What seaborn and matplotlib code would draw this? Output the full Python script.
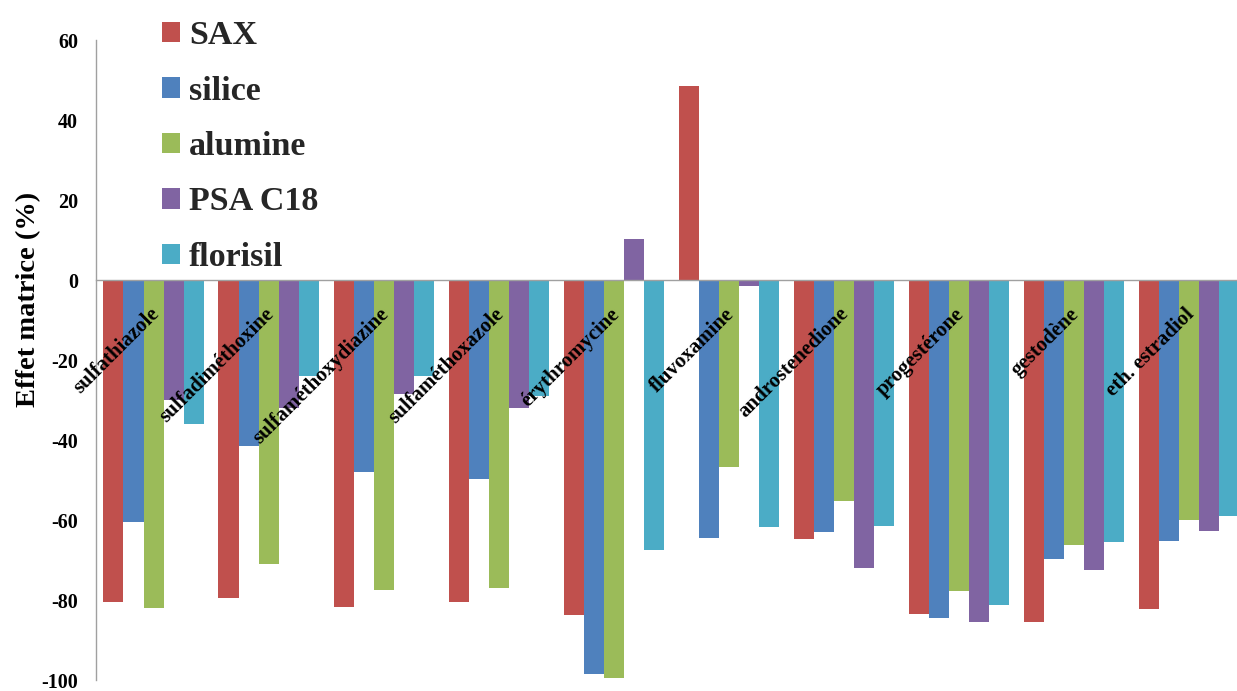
import matplotlib
matplotlib.use('Agg')
import pandas as pd
import matplotlib.pyplot as plt
import seaborn as sns

compounds = ['sulfathiazole', 'sulfadiméthoxine', 'sulfaméthoxydiazine', 'sulfaméthoxazole',
             'érythromycine', 'fluvoxamine', 'androstenedione', 'progestérone',
             'gestodène', 'eth. estradiol']
phases = ['SAX', 'silice', 'alumine', 'PSA C18', 'florisil']

sax = [-80.5, -79.6, -81.7, -80.4, -83.8, 48.5, -64.8, -83.6, -85.6, -82.3]
silice = [-60.4, -41.6, -48.0, -49.8, -98.6, -64.6, -63.0, -84.6, -69.8, -65.2]
alumine = [-82.0, -71.0, -77.6, -77.0, -99.6, -46.7, -55.3, -77.7, -66.3, -60.1]
psa_c18 = [-30.0, -32.0, -28.6, -32.0, 10.2, -1.5, -71.9, -85.4, -72.6, -62.8]
florisil = [-36.0, -24.0, -24.0, -29.0, -67.5, -61.7, -61.4, -81.3, -65.4, -59.1]

colors = ['#C0504D', '#4F81BD', '#9BBB59', '#8064A2', '#4BACC6']

series = {'SAX': sax, 'silice': silice, 'alumine': alumine, 'PSA C18': psa_c18, 'florisil': florisil}
rows = []
for phase, values in series.items():
    for comp, val in zip(compounds, values):
        rows.append({'compound': comp, 'phase': phase, 'effet': val})
df = pd.DataFrame(rows)

sns.set_theme(style='white')
plt.rcParams['font.family'] = ['Liberation Serif', 'DejaVu Serif']
plt.rcParams['font.weight'] = 'bold'
plt.rcParams['axes.unicode_minus'] = False

W, H = 1237, 691
fig = plt.figure(figsize=(W / 100, H / 100), dpi=100)
ax = fig.add_axes([96 / W, 11 / H, 1 - 96 / W, 640 / H])

sns.barplot(data=df, x='compound', y='effet', hue='phase', order=compounds, hue_order=phases,
            palette=colors, width=0.87, saturation=1, linewidth=0, errorbar=None, ax=ax)

# l'axe des x est coupé à droite dans l'original
ax.set_xlim(-0.5, 9.42)
ax.set_ylim(-100, 60)
ax.set_yticks(range(-100, 61, 20))

for side in ['top', 'right']:
    ax.spines[side].set_visible(False)
ax.spines['bottom'].set_position(('data', 0))
ax.spines['bottom'].set_color('#A0A0A0')
ax.spines['left'].set_color('#A0A0A0')
ax.spines['bottom'].set_linewidth(1)
ax.spines['left'].set_linewidth(1)

ax.tick_params(axis='x', length=0, labelbottom=False)
ax.tick_params(axis='y', length=0, pad=13, labelsize=14.5, labelcolor='black')
for lab in ax.get_yticklabels():
    lab.set_fontweight('bold')
ax.set_xlabel('')

for i, name in enumerate(compounds):
    ax.text(i - 0.04, -6, name, rotation=45, rotation_mode='anchor', ha='right', va='top',
            fontsize=15, fontweight='bold', color='black')

ax.set_ylabel('Effet matrice (%)', fontsize=20.5, fontweight='bold', color='black')
ax.yaxis.set_label_coords(-0.048, 0.594)

leg = ax.get_legend()
handles = leg.legend_handles
labels = [t.get_text() for t in leg.get_texts()]
leg.remove()
fig.legend(handles, labels, loc='upper left', bbox_to_anchor=(162 / W, 1 - 20 / H),
           frameon=False, borderpad=0, borderaxespad=0,
           prop={'size': 24.5, 'weight': 'bold'}, handlelength=0.54, handleheight=0.54,
           handletextpad=0.25, labelspacing=0.72)

plt.savefig('out.png', dpi=100)
plt.close()
